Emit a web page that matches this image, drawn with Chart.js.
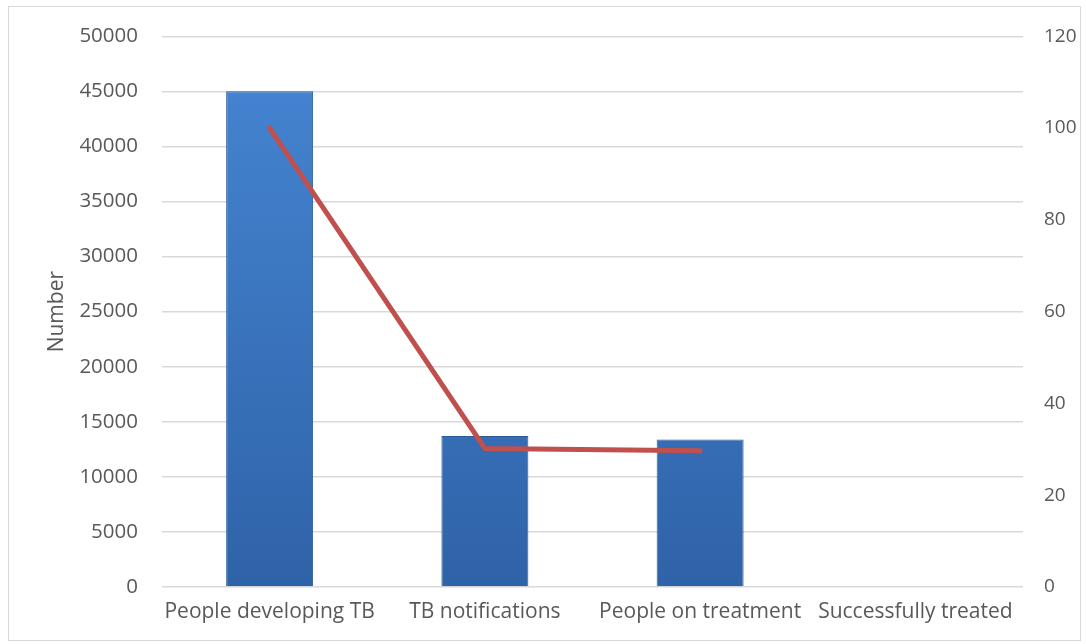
<!doctype html>
<html lang="en">
  <head>
    <meta charset="utf-8" />
    <title>TB cascade</title>
    <style>
      html, body { margin: 0; padding: 0; background: #fff; }
      .chartBox { width: 1086px; height: 644px; }
    </style>
  </head>
  <body>
    <div class="chartBox">
      <canvas id="myChart"></canvas>
    </div>
    <script src="https://cdn.jsdelivr.net/npm/chart.js/dist/chart.umd.min.js"></script>
    <script>
      // data
      const categories = ["People developing TB", "TB notifications", "People on treatment", "Successfully treated"];
      const numbers = [45000, 13700, 13400, null];
      const percents = [100, 30.2, 29.7, null];

      const leftTicks = [0, 5000, 10000, 15000, 20000, 25000, 30000, 35000, 40000, 45000, 50000];
      const rightTicks = [0, 20, 40, 60, 80, 100, 120];

      const textColor = "#595959";
      const fontFamily = "'Open Sans', sans-serif";

      Chart.defaults.font.family = fontFamily;
      Chart.defaults.color = textColor;

      // frame round the whole chart
      const frame = {
        id: "frame",
        beforeDraw(chart) {
          const ctx = chart.ctx;
          ctx.save();
          ctx.strokeStyle = "#d9d9d9";
          ctx.lineWidth = 1;
          ctx.strokeRect(8.5, 6.5, chart.width - 14, chart.height - 10);
          ctx.restore();
        },
      };

      function barFill(context) {
        const { ctx, chartArea } = context.chart;
        if (!chartArea) return "#3d7cc9";
        const g = ctx.createLinearGradient(0, chartArea.top, 0, chartArea.bottom);
        g.addColorStop(0, "#4686d4");
        g.addColorStop(1, "#2f63a8");
        return g;
      }

      const config = {
        data: {
          labels: categories,
          datasets: [
            {
              type: "line",
              data: percents,
              yAxisID: "y1",
              borderColor: "#c0504d",
              borderWidth: 5,
              pointRadius: 0,
              borderCapStyle: "round",
              borderJoinStyle: "round",
              tension: 0,
              order: 0,
            },
            {
              type: "bar",
              data: numbers,
              yAxisID: "y",
              backgroundColor: barFill,
              borderColor: "#2b5b99",
              borderWidth: 1,
              categoryPercentage: 1,
              barPercentage: 0.404,
              order: 1,
            },
          ],
        },
        options: {
          responsive: true,
          maintainAspectRatio: false,
          animation: false,
          layout: { padding: { left: 44, right: 0, top: 25, bottom: 17 } },
          plugins: {
            legend: { display: false },
            tooltip: { enabled: false },
          },
          scales: {
            x: {
              grid: { display: false, drawTicks: false },
              border: { display: false },
              ticks: { font: { size: 21 }, padding: 12, maxRotation: 0, autoSkip: false },
              afterFit: (s) => { s.height = 40; },
            },
            y: {
              position: "left",
              min: 0,
              max: 50000,
              afterBuildTicks: (s) => { s.ticks = leftTicks.map((v) => ({ value: v })); },
              ticks: { font: { size: 20.5 }, padding: 24, callback: (v) => String(v) },
              grid: { color: "#d9d9d9", drawTicks: false, lineWidth: 1.5 },
              border: { display: false },
              title: { display: true, text: "Number", font: { size: 21 }, padding: 0 },
              afterFit: (s) => { s.width = 118; },
            },
            y1: {
              position: "right",
              min: 0,
              max: 120,
              afterBuildTicks: (s) => { s.ticks = rightTicks.map((v) => ({ value: v })); },
              ticks: { font: { size: 19 }, padding: 21, callback: (v) => String(v) },
              grid: { display: false, drawTicks: false },
              border: { display: false },
              afterFit: (s) => { s.width = 63; },
            },
          },
        },
        plugins: [frame],
      };

      const myChart = new Chart(document.getElementById("myChart"), config);
    </script>
  </body>
</html>
